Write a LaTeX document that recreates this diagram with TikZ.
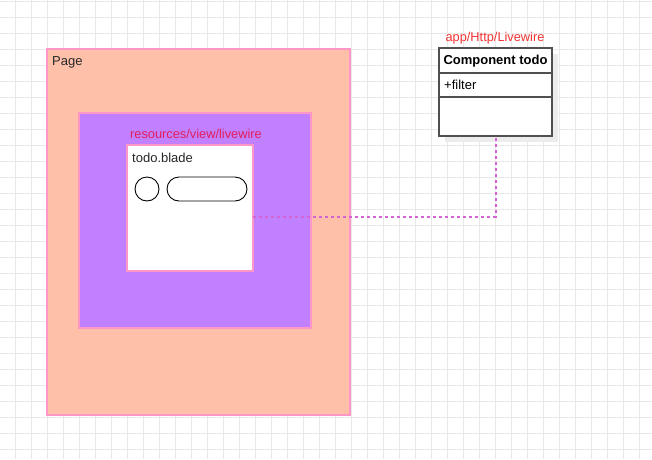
\documentclass[tikz,border=0pt]{standalone}
\usepackage{fontspec}
\setmainfont{Liberation Sans}
\definecolor{gridc}{RGB}{232,232,232}
\definecolor{pagefill}{RGB}{255,192,170}
\definecolor{pinkline}{RGB}{255,150,200}
\definecolor{purplefill}{RGB}{192,128,255}
\definecolor{redlabel}{RGB}{240,50,50}
\definecolor{crimson}{RGB}{228,30,90}
\definecolor{connc}{RGB}{212,100,212}
\definecolor{darkline}{RGB}{80,80,80}
\definecolor{shadowc}{RGB}{236,236,236}
\definecolor{textc}{RGB}{40,40,40}
\begin{document}
\begin{tikzpicture}[x=1pt,y=-1pt,
  area/.style={draw=pinkline, line width=1.1pt, inner sep=0pt, outer sep=0pt, anchor=north west},
  lbl/.style={font=\fontsize{12.8}{15}\selectfont, inner sep=0pt},
  txt/.style={font=\fontsize{13}{15}\selectfont, text=textc, inner sep=0pt, anchor=west},
  conn/.style={draw=connc, line width=2pt, dash pattern=on 3pt off 3pt},
  clsbox/.style={draw=darkline, line width=1.4pt, fill=white, inner sep=0pt, outer sep=0pt, anchor=north west, minimum width=113pt, minimum height=88pt}]
\useasboundingbox (0,0) rectangle (652,459);
% grid
\foreach \gx in {15.7,31.7,...,652} {\draw[gridc, line width=0.7pt] (\gx,0) -- (\gx,459);}
\foreach \gy in {1.5,17.5,...,459} {\draw[gridc, line width=0.7pt] (0,\gy) -- (652,\gy);}
% page
\node[area, fill=pagefill, minimum width=303pt, minimum height=366pt] (page) at (47,49) {};
\node[txt] (pagelbl) at (52,62) {Page};
% purple
\node[area, fill=purplefill, minimum width=232pt, minimum height=215pt] (lw) at (79,113) {};
\node[lbl, text=crimson] (lwlbl) at (196,133.5) {resources/view/livewire};
% blade
\node[area, fill=white, minimum width=126pt, minimum height=126pt] (blade) at (127,145) {};
\node[txt] (bladelbl) at (132,157.5) {todo.blade};
\node[draw=black, line width=0.9pt, circle, minimum size=24pt, inner sep=0pt] (circ) at (147,189) {};
\node[draw=black, line width=0.9pt, rounded corners=12pt, minimum width=80pt, minimum height=24pt, inner sep=0pt] (pill) at (207,189) {};
% class
\fill[shadowc] (445,54) rectangle (558,142);
\node[clsbox] (cls) at (439,48) {};
\draw[darkline, line width=1.4pt] ([yshift=-25pt]cls.north west) -- ([yshift=-25pt]cls.north east);
\draw[darkline, line width=1.4pt] ([yshift=-49pt]cls.north west) -- ([yshift=-49pt]cls.north east);
\node[font=\bfseries\fontsize{13}{15}\selectfont, text=black, inner sep=0pt] (clsname) at (495.5,61) {Component todo};
\node[txt, text=black] (clsattr) at (444,85) {+filter};
\node[lbl, text=redlabel] (clslbl) at (495,38.5) {app/Http/Livewire};
% connector
\draw[conn] ([yshift=-8.5pt]blade.east) -| (cls.south);
\end{tikzpicture}
\end{document}
